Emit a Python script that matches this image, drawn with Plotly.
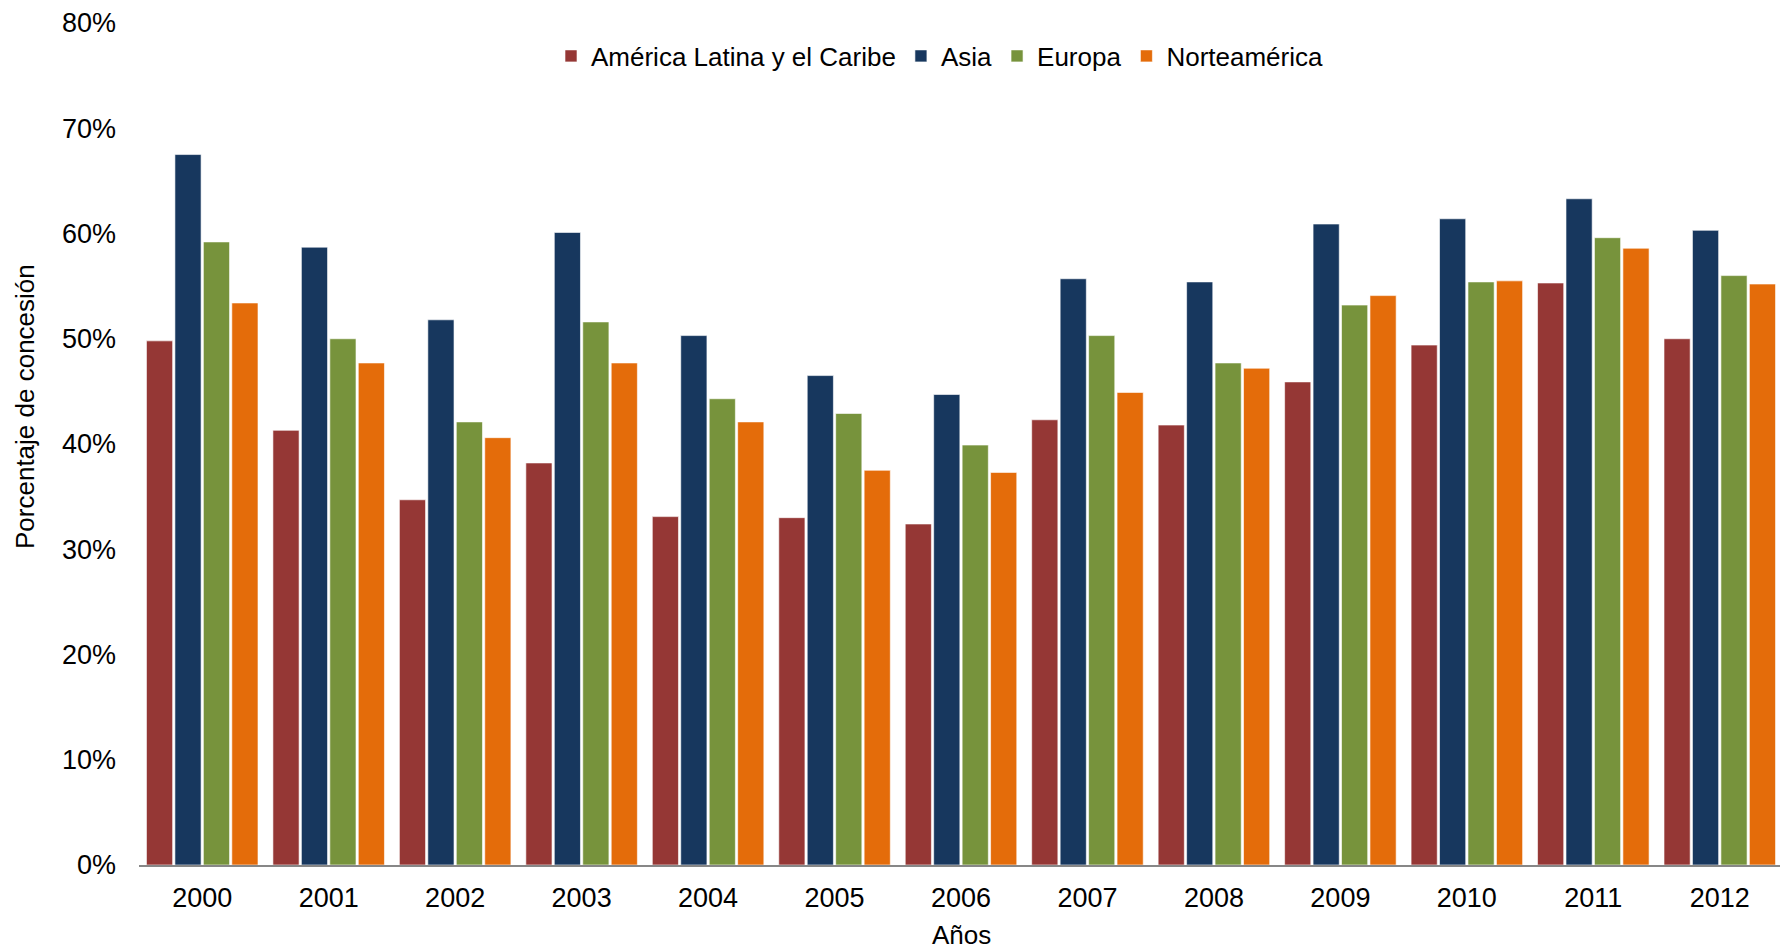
import plotly.graph_objects as go

years = ["2000", "2001", "2002", "2003", "2004", "2005", "2006",
         "2007", "2008", "2009", "2010", "2011", "2012"]
america_latina = [49.8, 41.3, 34.7, 38.2, 33.1, 33.0, 32.4, 42.3, 41.8, 45.9, 49.4, 55.3, 50.0]
asia = [67.5, 58.7, 51.8, 60.1, 50.3, 46.5, 44.7, 55.7, 55.4, 60.9, 61.4, 63.3, 60.3]
europa = [59.2, 50.0, 42.1, 51.6, 44.3, 42.9, 39.9, 50.3, 47.7, 53.2, 55.4, 59.6, 56.0]
norteamerica = [53.4, 47.7, 40.6, 47.7, 42.1, 37.5, 37.3, 44.9, 47.2, 54.1, 55.5, 58.6, 55.2]

series_names = ["América Latina y el Caribe", "Asia", "Europa", "Norteamérica"]
series_values = [america_latina, asia, europa, norteamerica]
colors = ["#953735", "#17375E", "#77933C", "#E46C0A"]
y_ticks = [0, 10, 20, 30, 40, 50, 60, 70, 80]
y_tick_labels = [f"{t}%" for t in y_ticks]

fig = go.Figure()
for name, vals, col in zip(series_names, series_values, colors):
    fig.add_trace(go.Bar(
        x=years, y=[v / 100 for v in vals], name=name,
        marker=dict(color=col, line=dict(color="rgba(255,255,255,0.6)", width=1)),
    ))

W, H = 1780, 943
L, R, T, B = 131, 5, 15, 86
plot_w = W - L - R
plot_h = H - T - B
bottom_y = H - B  # pixel row of the x axis

font_family = "Liberation Sans, Arial, sans-serif"
fig.update_layout(
    width=W, height=H,
    margin=dict(l=L, r=R, t=T, b=B, autoexpand=False),
    paper_bgcolor="white", plot_bgcolor="white",
    barmode="group", bargap=0.1, bargroupgap=0.08,
    font=dict(family=font_family, size=27, color="#000000"),
    showlegend=True,
    legend=dict(orientation="h", x=(932 - L) / plot_w, xanchor="center",
                y=(bottom_y - 48) / plot_h, yanchor="middle",
                font=dict(size=26), traceorder="normal", bgcolor="rgba(0,0,0,0)"),
    xaxis=dict(showgrid=False, showline=True, linecolor="#878787", linewidth=2,
               ticks="", tickfont=dict(size=27), ticklabelstandoff=8, zeroline=False,
               automargin=False),
    yaxis=dict(range=[0, 0.8], tickvals=[t / 100 for t in y_ticks], ticktext=y_tick_labels,
               showgrid=False, showline=False, zeroline=False, ticks="",
               tickfont=dict(size=27), ticklabelstandoff=22, automargin=False),
    annotations=[
        dict(text="Porcentaje de concesión", textangle=-90,
             x=(17 - L) / plot_w, xref="paper", y=(bottom_y - 399) / plot_h, yref="paper",
             showarrow=False, font=dict(size=26), xanchor="center", yanchor="middle"),
        dict(text="Años", x=(953 - L) / plot_w, xref="paper",
             y=(bottom_y - 927) / plot_h, yref="paper",
             showarrow=False, font=dict(size=26), xanchor="center", yanchor="middle"),
    ],
)

fig.write_html("out.html")
